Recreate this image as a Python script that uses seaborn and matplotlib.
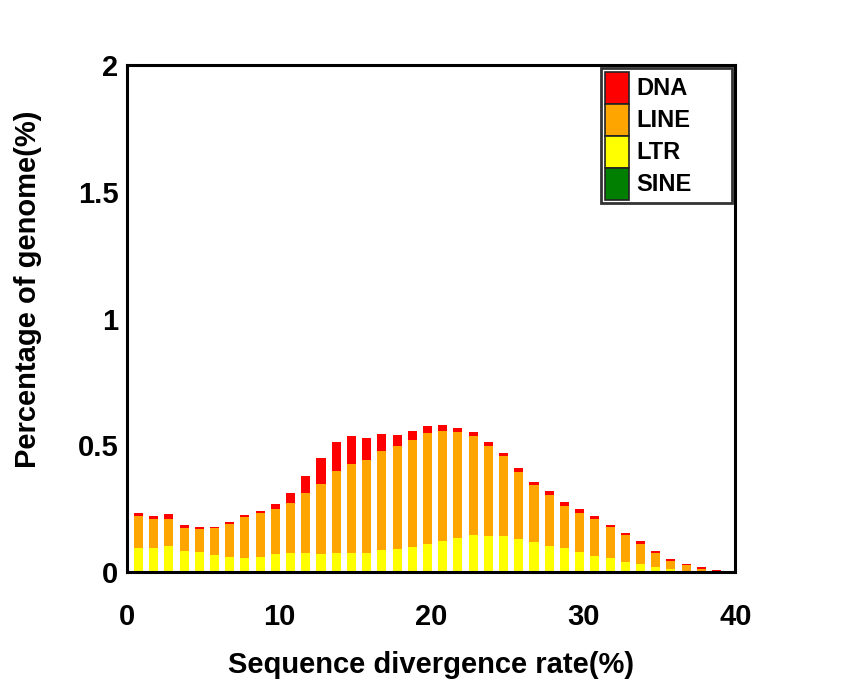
import pandas as pd
import matplotlib
matplotlib.use('Agg')
import matplotlib.pyplot as plt
import seaborn as sns
from matplotlib.patches import Patch

# Данные: процент генома по уровню дивергенции (1..40)
rate = list(range(1, 41))
ltr = [0.094, 0.094, 0.102, 0.084, 0.078, 0.068, 0.059, 0.054, 0.061, 0.069,
       0.073, 0.073, 0.069, 0.073, 0.073, 0.074, 0.085, 0.091, 0.098, 0.110,
       0.123, 0.136, 0.144, 0.140, 0.141, 0.131, 0.119, 0.104, 0.093, 0.077,
       0.065, 0.054, 0.040, 0.031, 0.021, 0.010, 0.005, 0.003, 0.001, 0.000]
line = [0.125, 0.114, 0.106, 0.090, 0.093, 0.104, 0.129, 0.161, 0.170, 0.179,
        0.201, 0.239, 0.277, 0.326, 0.353, 0.367, 0.394, 0.405, 0.422, 0.438,
        0.434, 0.418, 0.393, 0.359, 0.316, 0.263, 0.224, 0.199, 0.169, 0.157,
        0.144, 0.122, 0.106, 0.081, 0.055, 0.034, 0.021, 0.009, 0.003, 0.001]
dna = [0.015, 0.011, 0.020, 0.010, 0.007, 0.007, 0.009, 0.010, 0.011, 0.020,
       0.038, 0.065, 0.102, 0.115, 0.109, 0.086, 0.067, 0.044, 0.035, 0.026,
       0.021, 0.016, 0.014, 0.014, 0.013, 0.015, 0.012, 0.017, 0.015, 0.013,
       0.012, 0.011, 0.009, 0.009, 0.008, 0.008, 0.007, 0.006, 0.005, 0.004]
sine = [0.0] * 40

types = ['DNA', 'LINE', 'LTR', 'SINE']
colors = {'DNA': '#ff0000', 'LINE': '#ffa500', 'LTR': '#ffff00', 'SINE': '#007f00'}

# Длинный формат для seaborn
rows = []
for name, vals in zip(types, [dna, line, ltr, sine]):
    for r, v in zip(rate, vals):
        rows.append({'rate': r - 0.23, 'type': name, 'pct': v})
data = pd.DataFrame(rows)

sns.set_style('white')
plt.rcParams['font.family'] = ['Liberation Sans', 'DejaVu Sans']
plt.rcParams['font.weight'] = 'bold'
plt.rcParams['text.color'] = 'black'
plt.rcParams['axes.labelcolor'] = 'black'
plt.rcParams['xtick.color'] = 'black'
plt.rcParams['ytick.color'] = 'black'

narrow = ['Liberation Sans Narrow', 'Liberation Sans', 'DejaVu Sans']

fig, ax = plt.subplots(figsize=(8.62, 6.85), dpi=100)
fig.subplots_adjust(left=0.147, right=0.853, bottom=0.165, top=0.905)

sns.histplot(data=data, x='rate', weights='pct', hue='type', hue_order=types,
             palette=colors, multiple='stack', discrete=True, shrink=0.6,
             alpha=1, linewidth=0, legend=False, ax=ax)

ax.set_xlim(0, 40)
ax.set_ylim(0, 2)
ax.set_xticks([0, 10, 20, 30, 40])
ax.set_yticks([0, 0.5, 1, 1.5, 2])
ax.set_yticklabels(['0', '0.5', '1', '1.5', '2'])
ax.tick_params(direction='out', length=5, width=2.2, labelsize=21, color='black')
ax.tick_params(axis='x', pad=17)
ax.tick_params(axis='y', pad=1)
for lab in ax.get_xticklabels() + ax.get_yticklabels():
    lab.set_fontweight('bold')
    lab.set_family(narrow)

for s in ax.spines.values():
    s.set_linewidth(2.2)
    s.set_color('black')

ax.set_xlabel('Sequence divergence rate(%)', fontsize=21, fontweight='bold', labelpad=15)
ax.set_ylabel('Percentage of genome(%)', fontsize=21, fontweight='bold', labelpad=26)
ax.yaxis.label.set_y(0.558)

# Легенда в правом верхнем углу, растянута по ширине рамки
handles = [Patch(facecolor=colors[t], edgecolor='#222222', linewidth=1.2) for t in types]
leg = ax.legend(handles, types, loc='upper right', mode='expand',
                bbox_to_anchor=(0.78, 0.5, 0.214, 0.494),
                borderaxespad=0, frameon=True, fancybox=False,
                prop={'family': narrow, 'weight': 'bold', 'size': 17},
                handlelength=1.02, handleheight=1.71, labelspacing=0.0,
                handletextpad=0.3, borderpad=0.15)
leg.get_frame().set_edgecolor('black')
leg.get_frame().set_linewidth(2)

fig.savefig('out.png', dpi=100)
